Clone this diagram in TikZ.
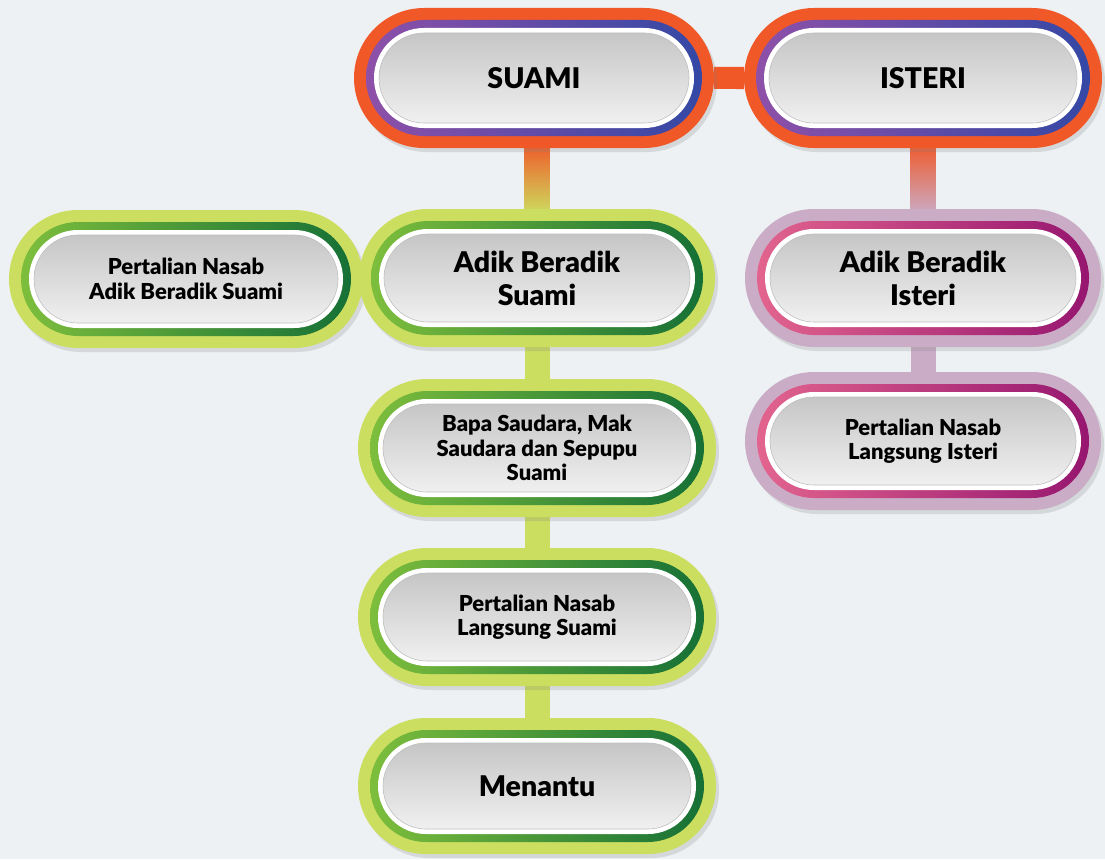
\documentclass[tikz,border=0pt]{standalone}
\usepackage{fontspec}
\setmainfont{Lato}[BoldFont={Lato Black}]
\usetikzlibrary{shapes.misc,shadows}
\pgfdeclarelayer{back}
\pgfdeclarelayer{bg}
\pgfsetlayers{back,bg,main}
\definecolor{bgc}{RGB}{237,241,244}
\definecolor{orangec}{RGB}{240,88,40}
\definecolor{purpc}{RGB}{142,80,168}
\definecolor{bluec}{RGB}{52,72,165}
\definecolor{ygreen}{RGB}{204,222,96}
\definecolor{lgreen}{RGB}{125,190,60}
\definecolor{dgreen}{RGB}{22,112,54}
\definecolor{lilac}{RGB}{202,172,198}
\definecolor{pinkc}{RGB}{226,100,142}
\definecolor{magc}{RGB}{150,22,112}
\definecolor{grayt}{RGB}{198,198,198}
\definecolor{grayb}{RGB}{240,240,240}
\tikzset{
  pillbase/.style={rounded rectangle, inner sep=0pt, draw=none},
  outerpill/.style={pillbase, drop shadow={opacity=0.22, shadow xshift=3pt, shadow yshift=-4pt}},
  innerpill/.style={pillbase, top color=grayt, bottom color=grayb, draw=black!25, line width=0.6pt, align=center, text=black},
  bigtxt/.style={font=\bfseries\fontsize{28.5}{33}\selectfont},
  smalltxt/.style={font=\bfseries\fontsize{22}{24.5}\selectfont},
  bar/.style={line width=25pt},
}
% #1 name, #2 position, #3 width, #4 height, #5 outer colour, #6 ring left, #7 ring right, #8 text style, #9 text
\newcommand\mypill[9]{%
  \node[outerpill, minimum width=#3, minimum height=#4, fill=#5] (#1) at #2 {};
  \node[pillbase, minimum width=#3-24, minimum height=#4-24, left color=#6, right color=#7] at (#1) {};
  \node[pillbase, minimum width=#3-40, minimum height=#4-40, fill=white] at (#1) {};
  \node[innerpill, minimum width=#3-50, minimum height=#4-50, #8] at (#1) {#9};
}
\begin{document}
\begin{tikzpicture}[x=1pt,y=-1pt]
\begin{pgfonlayer}{back}
  \fill[bgc] (0,0) rectangle (1105,859);
\end{pgfonlayer}
\mypill{suami}{(534,78)}{360}{140}{orangec}{purpc}{bluec}{bigtxt}{SUAMI}
\mypill{isteri}{(923,78)}{358}{140}{orangec}{purpc}{bluec}{bigtxt}{ISTERI}
\mypill{pnas}{(186,279)}{354}{138}{ygreen}{lgreen}{dgreen}{smalltxt}{Pertalian Nasab\\Adik Beradik Suami}
\mypill{adiks}{(537,278)}{356}{138}{ygreen}{lgreen}{dgreen}{bigtxt}{Adik Beradik\\Suami}
\mypill{adiki}{(923,278)}{356}{138}{lilac}{pinkc}{magc}{bigtxt}{Adik Beradik\\Isteri}
\mypill{pnli}{(923,441)}{356}{138}{lilac}{pinkc}{magc}{smalltxt}{Pertalian Nasab\\Langsung Isteri}
\mypill{bapa}{(537,448)}{358}{138}{ygreen}{lgreen}{dgreen}{smalltxt}{Bapa Saudara, Mak\\Saudara dan Sepupu\\Suami}
\mypill{pnls}{(537,617)}{358}{138}{ygreen}{lgreen}{dgreen}{smalltxt}{Pertalian Nasab\\Langsung Suami}
\mypill{menantu}{(537,786)}{358}{136}{ygreen}{lgreen}{dgreen}{bigtxt}{Menantu}
\begin{pgfonlayer}{bg}
  \draw[line width=22pt, orangec] (suami) -- (isteri);
  \fill[top color=orangec, bottom color=ygreen]
    ([xshift=-12.5pt,yshift=6pt]adiks.north |- suami.south) rectangle ([xshift=12.5pt,yshift=-6pt]adiks.north);
  \fill[top color=orangec, bottom color=lilac]
    ([xshift=-12.5pt,yshift=6pt]adiki.north |- isteri.south) rectangle ([xshift=12.5pt,yshift=-6pt]adiki.north);
  \draw[bar, ygreen] (adiks) -- (bapa);
  \draw[bar, ygreen] (bapa) -- (pnls);
  \draw[bar, ygreen] (pnls) -- (menantu);
  \draw[bar, lilac] (adiki) -- (pnli);
\end{pgfonlayer}
\end{tikzpicture}
\end{document}
